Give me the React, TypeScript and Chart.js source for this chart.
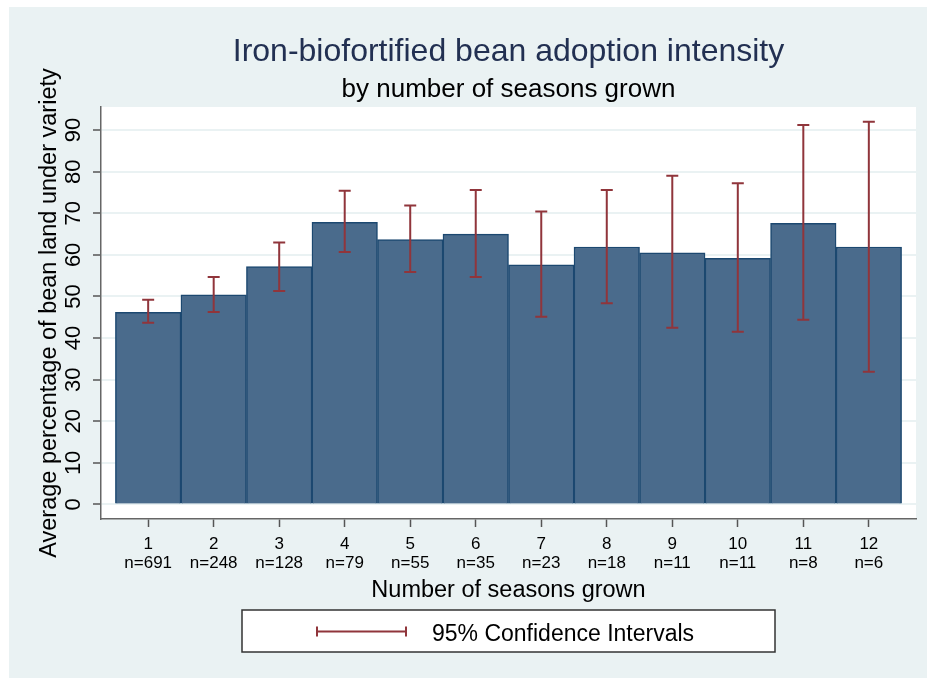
import React, { useEffect, useRef } from 'react';
import { Chart, registerables } from 'chart.js';

Chart.register(...registerables);

const FONT = '"Liberation Sans", Arial, sans-serif';

const seasons = [1, 2, 3, 4, 5, 6, 7, 8, 9, 10, 11, 12];
const sampleSizes = [691, 248, 128, 79, 55, 35, 23, 18, 11, 11, 8, 6];
const meanShare = [46.2, 50.4, 57.2, 67.8, 63.7, 65.0, 57.6, 61.9, 60.5, 59.2, 67.6, 61.9];
const ciLower = [43.7, 46.3, 51.3, 60.7, 55.9, 54.7, 45.1, 48.4, 42.5, 41.5, 44.4, 31.9];
const ciUpper = [49.2, 54.7, 63.0, 75.4, 71.9, 75.6, 70.4, 75.6, 79.0, 77.2, 91.2, 92.0];
const yTicks = [0, 10, 20, 30, 40, 50, 60, 70, 80, 90];

const BG = '#eaf2f3';
const CI_COLOR = '#90353b';

const backgroundPlugin = {
  id: 'stataBackground',
  beforeDraw(chart: any) {
    const { ctx, chartArea } = chart;
    ctx.save();
    ctx.fillStyle = '#ffffff';
    ctx.fillRect(0, 0, chart.width, chart.height);
    ctx.fillStyle = BG;
    ctx.fillRect(9, 7, chart.width - 9, chart.height - 7);
    ctx.fillStyle = '#ffffff';
    ctx.fillRect(chartArea.left, chartArea.top, chartArea.right - chartArea.left, chartArea.bottom - chartArea.top);
    ctx.restore();
  },
};

const errorBarPlugin = {
  id: 'errorBars',
  afterDatasetsDraw(chart: any) {
    const { ctx } = chart;
    const x = chart.scales.x;
    const y = chart.scales.y;
    ctx.save();
    ctx.strokeStyle = CI_COLOR;
    ctx.lineWidth = 2;
    seasons.forEach((s, i) => {
      const px = x.getPixelForValue(s);
      const top = y.getPixelForValue(ciUpper[i]);
      const bot = y.getPixelForValue(ciLower[i]);
      ctx.beginPath();
      ctx.moveTo(px, top);
      ctx.lineTo(px, bot);
      ctx.moveTo(px - 6, top);
      ctx.lineTo(px + 6, top);
      ctx.moveTo(px - 6, bot);
      ctx.lineTo(px + 6, bot);
      ctx.stroke();
    });
    ctx.restore();
  },
};

const legendPlugin = {
  id: 'ciLegend',
  afterDraw(chart: any) {
    const { ctx } = chart;
    ctx.save();
    ctx.fillStyle = '#ffffff';
    ctx.fillRect(242, 610, 533, 42);
    ctx.strokeStyle = '#333333';
    ctx.lineWidth = 1.5;
    ctx.strokeRect(242, 610, 533, 42);
    ctx.strokeStyle = CI_COLOR;
    ctx.lineWidth = 2;
    ctx.beginPath();
    ctx.moveTo(317, 631.5);
    ctx.lineTo(406, 631.5);
    ctx.moveTo(317, 626.5);
    ctx.lineTo(317, 636.5);
    ctx.moveTo(406, 626.5);
    ctx.lineTo(406, 636.5);
    ctx.stroke();
    ctx.fillStyle = '#000000';
    ctx.font = `23px ${FONT}`;
    ctx.textAlign = 'left';
    ctx.textBaseline = 'alphabetic';
    ctx.fillText('95% Confidence Intervals', 432, 640.5);
    ctx.restore();
  },
};

export default function App() {
  const ref = useRef<HTMLCanvasElement>(null);

  useEffect(() => {
    document.body.style.margin = '0';
    const canvas = ref.current;
    if (!canvas) return;
    const chart = new Chart(canvas, {
      type: 'bar',
      data: {
        datasets: [
          {
            label: 'Average percentage',
            data: seasons.map((s, i) => ({ x: s, y: meanShare[i] })),
            backgroundColor: '#4a6b8c',
            borderColor: '#1c4870',
            borderWidth: 1.5,
            barPercentage: 1,
            categoryPercentage: 1,
          },
        ],
      },
      options: {
        responsive: false,
        animation: false,
        layout: { padding: { top: 0, left: 0, right: 11, bottom: 49 } },
        plugins: {
          legend: { display: false },
          tooltip: { enabled: false },
          title: {
            display: true,
            text: 'Iron-biofortified bean adoption intensity',
            fullSize: false,
            color: '#223052',
            font: { family: FONT, size: 32, weight: 'normal' },
            padding: { top: 33, bottom: 0 },
          },
          subtitle: {
            display: true,
            text: 'by number of seasons grown',
            fullSize: false,
            color: '#000000',
            font: { family: FONT, size: 26, weight: 'normal' },
            padding: { top: 3, bottom: 1.4 },
          },
        },
        scales: {
          x: {
            type: 'linear',
            min: 0.28,
            max: 12.72,
            offset: false,
            afterBuildTicks: (scale: any) => {
              scale.ticks = seasons.map((v) => ({ value: v }));
            },
            afterFit: (scale: any) => {
              scale.height = 110;
            },
            ticks: {
              color: '#000000',
              font: { family: FONT, size: 17, lineHeight: '19px' },
              padding: 8,
              autoSkip: false,
              maxRotation: 0,
              callback: (v: any) => {
                const i = seasons.indexOf(Number(v));
                return i >= 0 ? [String(seasons[i]), 'n=' + sampleSizes[i]] : '';
              },
            },
            grid: {
              offset: false,
              drawOnChartArea: false,
              drawTicks: true,
              tickLength: 8,
              tickColor: '#555555',
              tickWidth: 1.5,
            },
            border: { display: true, color: '#666666', width: 1.5 },
            title: {
              display: true,
              text: 'Number of seasons grown',
              color: '#000000',
              font: { family: FONT, size: 23.5 },
              padding: { top: 0, bottom: 24 },
            },
          },
          y: {
            type: 'linear',
            min: -3.49,
            max: 95.55,
            afterBuildTicks: (scale: any) => {
              scale.ticks = yTicks.map((v) => ({ value: v }));
            },
            afterFit: (scale: any) => {
              scale.width = 101;
            },
            ticks: {
              color: '#000000',
              font: { family: FONT, size: 22 },
              minRotation: 90,
              maxRotation: 90,
              crossAlign: 'center',
              padding: 7,
              callback: (v: any) => String(v),
            },
            grid: {
              color: BG,
              lineWidth: 2,
              drawTicks: true,
              tickLength: 8,
              tickColor: '#555555',
              tickWidth: 1.5,
            },
            border: { display: true, color: '#666666', width: 1.5 },
            title: {
              display: true,
              text: 'Average percentage of bean land under variety',
              color: '#000000',
              font: { family: FONT, size: 23.5 },
              padding: { top: 35, bottom: 0 },
            },
          },
        },
      } as any,
      plugins: [backgroundPlugin, errorBarPlugin, legendPlugin],
    });
    return () => chart.destroy();
  }, []);

  return (
    <div style={{ width: 927, height: 678 }}>
      <canvas ref={ref} width={927} height={678} style={{ display: 'block', width: 927, height: 678 }} />
    </div>
  );
}
